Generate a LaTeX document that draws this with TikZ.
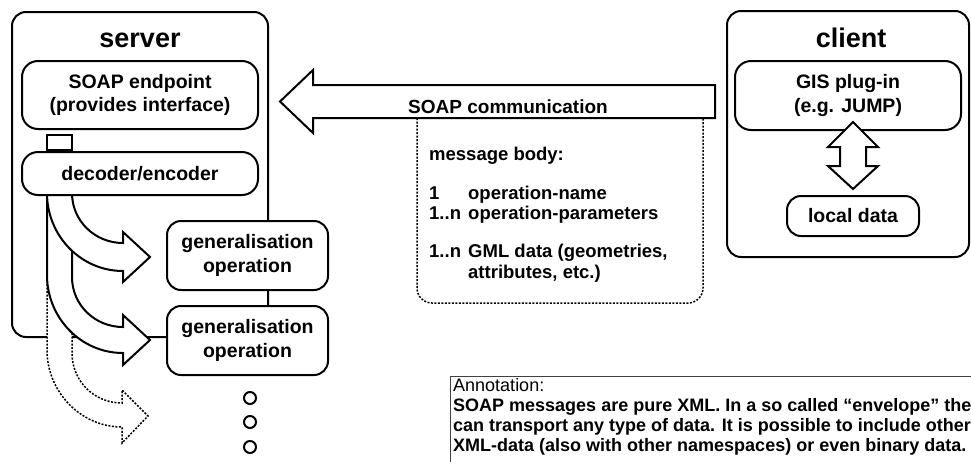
\documentclass[tikz,border=0pt]{standalone}
\usepackage{fontspec}
\setmainfont{Liberation Sans}
\usetikzlibrary{positioning}
\tikzstyle{container} = [
    rectangle,
    rounded corners=14pt,
    line width=2pt,
    draw=black
]
\tikzstyle{module} = [
    rectangle,
    rounded corners=16pt,
    line width=2pt,
    draw=black,
    fill=white,
    align=center,
    inner sep=0pt,
    font=\fontsize{19.5}{23.5}\selectfont\bfseries
]
\tikzstyle{title} = [
    inner sep=0pt,
    font=\fontsize{27}{30}\selectfont\bfseries
]
\tikzstyle{port} = [
    rectangle,
    minimum width=25pt,
    minimum height=15pt,
    inner sep=0pt,
    line width=2pt,
    draw=black,
    fill=white
]
\tikzstyle{blockarrow} = [line width=2pt, draw=black, fill=white]
\tikzstyle{futurearrow} = [line width=1.5pt, dash pattern=on 2pt off 1.5pt, draw=black, fill=white]
\tikzstyle{msgbox} = [line width=1.5pt, dash pattern=on 2pt off 1.5pt, rounded corners=15pt]
\tikzstyle{dotmark} = [circle, minimum size=12pt, inner sep=0pt, line width=2pt, draw=black]
\tikzstyle{note} = [line width=1pt, draw=black!75]

\begin{document}
\begin{tikzpicture}[x=1pt, y=-1pt]
\useasboundingbox (0,0) rectangle (971,461);
\clip (0,0) rectangle (971,461);
\fill [white] (0,0) rectangle (971,461);

% server side
\node (server) [container, minimum width=256pt, minimum height=325pt] at (140,174.5) {};
\node (srvtitle) [title, anchor=base] at (140,47) {server};
\node (endpoint) [module, minimum width=236pt, minimum height=68pt] at (140,95)
{SOAP endpoint\\(provides interface)};
\node (port) [port] at (59.5,142.5) {};

% curved arrows (drawn back to front)
\draw [futurearrow] (47,193) -- (47,350) .. controls (47,392) and (81,427) .. (122,427)
    -- (122,443) -- (148,416) -- (122,390) -- (122,403)
    .. controls (94,403) and (72,381) .. (72,353) -- (72,193) -- cycle;
\draw [blockarrow] (47,193) -- (47,275) .. controls (47,318) and (81,353) .. (123,353)
    -- (123,365) -- (150,340) -- (123,315) -- (123,327)
    .. controls (95,327) and (72,305) .. (72,277) -- (72,193) -- cycle;
\draw [blockarrow] (47,193) .. controls (47,236) and (81,271) .. (123,271)
    -- (123,282) -- (150,257) -- (123,232) -- (123,243)
    .. controls (95,243) and (72,221) .. (72,193) -- cycle;

\node (decoder) [module, minimum width=236pt, minimum height=43pt, below=21pt of endpoint]
{decoder/encoder};
\node (genop1) [module, rounded corners=14pt, minimum width=161pt, minimum height=69pt] at (247.5,255.5)
{generalisation\\operation};
\node (genop2) [module, rounded corners=14pt, minimum width=161pt, minimum height=69pt, below=14pt of genop1]
{generalisation\\operation};
\foreach \i/\y in {1/398,2/422,3/447}
    \node (dot\i) [dotmark] at (250,\y) {};

% message
\draw [msgbox] (417,118) -- (417,303) -- (703,303) -- (703,118);
\draw [blockarrow] (280,101.5) -- (313,70) -- (313,85) -- (715,85) -- (715,118)
    -- (313,118) -- (313,133) -- cycle;
\node (soaplabel) [anchor=base, inner sep=0pt, font=\fontsize{19}{22}\selectfont\bfseries] at (508,113)
{SOAP communication};
\node (msgbody) [anchor=base west, inner sep=0pt, font=\fontsize{18.5}{20.5}\selectfont\bfseries] at (429,160)
{\begin{tabular}[t]{@{}p{39pt}@{}l@{}}
\multicolumn{2}{@{}l@{}}{message body:}\\[18.5pt]
1 & operation-name\\
1..n & operation-parameters\\[17.5pt]
1..n & GML data (geometries,\\
 & attributes, etc.)
\end{tabular}};

% client side
\node (client) [container, minimum width=242pt, minimum height=246pt] at (848,134) {};
\node (clttitle) [title, anchor=base] at (851,47) {client};
\node (gis) [module, minimum width=226pt, minimum height=69pt] at (848,95.5)
{GIS plug-in\\(e.g. JUMP)};
\node (local) [module, rounded corners=14pt, minimum width=132pt, minimum height=40pt] at (853,216)
{local data};
\draw [blockarrow] (853,122) -- (878,147) -- (866,147) -- (866,166) -- (878,166)
    -- (853,189) -- (828,166) -- (840,166) -- (840,147) -- (828,147) -- cycle;

% annotation
\draw [note] (450,376) rectangle (1000,480);
\node (annot) [anchor=base west, inner sep=0pt, font=\fontsize{18}{20.3}\selectfont] at (453,391)
{\begin{tabular}[t]{@{}l@{}}
Annotation:\\
\textbf{SOAP messages are pure XML. In a so called “envelope” they}\\
\textbf{can transport any type of data. It is possible to include other}\\
\textbf{XML-data (also with other namespaces) or even binary data.}
\end{tabular}};

\end{tikzpicture}
\end{document}
